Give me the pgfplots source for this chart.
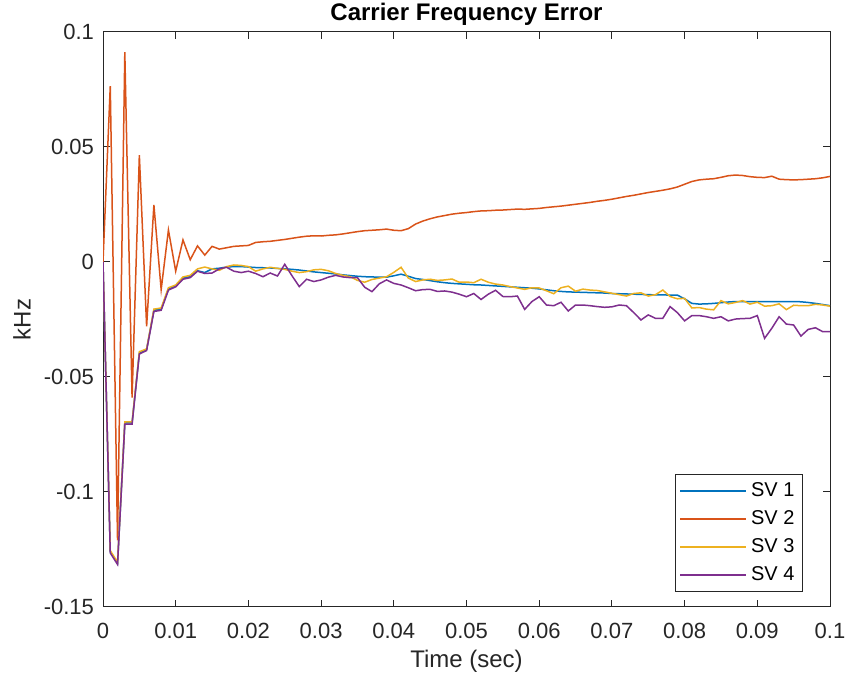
\documentclass[border=0pt]{standalone}
\usepackage{pgfplots}
\usepackage{pgfplotstable}
\pgfplotsset{compat=1.18}
\usepackage{fontspec}
\setmainfont{Liberation Sans}
\definecolor{c1}{rgb}{0,0.447,0.741}
\definecolor{c2}{rgb}{0.85,0.325,0.098}
\definecolor{c3}{rgb}{0.929,0.694,0.125}
\definecolor{c4}{rgb}{0.494,0.184,0.556}
\definecolor{axgray}{rgb}{0.15,0.15,0.15}
\pgfplotstableread{
x sva svb svc svd
0.000 0 0 0 0
0.001 -0.126 0.0765 -0.1255 -0.1265
0.002 -0.131 -0.121 -0.1305 -0.1315
0.003 -0.070 0.0912 -0.0695 -0.0705
0.004 -0.070 -0.059 -0.0695 -0.0705
0.005 -0.0396 0.0465 -0.0390 -0.0400
0.006 -0.038 -0.028 -0.0378 -0.0385
0.007 -0.021 0.0248 -0.0205 -0.0215
0.008 -0.0205 -0.012 -0.0200 -0.0210
0.009 -0.0118 0.0139 -0.0112 -0.0122
0.010 -0.0104 -0.004 -0.0100 -0.0108
0.011 -0.007 0.0096 -0.0065 -0.0075
0.012 -0.0064 0.001 -0.0058 -0.0068
0.013 -0.0038 0.007 -0.0030 -0.0040
0.014 -0.0046 0.003 -0.0022 -0.0050
0.015 -0.0030 0.0068 -0.0030 -0.0048
0.016 -0.0027 0.0056 -0.0036 -0.0030
0.017 -0.0022 0.0062 -0.0020 -0.0023
0.018 -0.0020 0.0068 -0.0013 -0.0040
0.019 -0.0020 0.0070 -0.0015 -0.0046
0.020 -0.0022 0.0072 -0.0020 -0.0040
0.021 -0.0024 0.0085 -0.0040 -0.0050
0.022 -0.0025 0.0088 -0.0030 -0.0064
0.023 -0.0026 0.0090 -0.0023 -0.0048
0.024 -0.0028 0.0094 -0.0028 -0.0061
0.025 -0.0030 0.0098 -0.0032 -0.0010
0.026 -0.0032 0.0103 -0.0040 -0.0060
0.027 -0.0035 0.0108 -0.0046 -0.0107
0.028 -0.0039 0.0112 -0.0042 -0.0075
0.029 -0.0043 0.0114 -0.0034 -0.0085
0.030 -0.0046 0.0113 -0.0032 -0.0078
0.031 -0.0049 0.0116 -0.0038 -0.0066
0.032 -0.0052 0.0118 -0.0050 -0.0058
0.033 -0.0056 0.0122 -0.0058 -0.0065
0.034 -0.0059 0.0127 -0.0064 -0.0068
0.035 -0.0062 0.0132 -0.0080 -0.0068
0.036 -0.0064 0.0136 -0.0088 -0.0110
0.037 -0.0065 0.0138 -0.0076 -0.0129
0.038 -0.0066 0.0140 -0.0070 -0.0095
0.039 -0.0066 0.0143 -0.0064 -0.0078
0.040 -0.0060 0.0138 -0.0045 -0.0093
0.041 -0.0053 0.0136 -0.0023 -0.0100
0.042 -0.0062 0.0145 -0.0070 -0.0112
0.043 -0.0072 0.0165 -0.0085 -0.0125
0.044 -0.0076 0.0178 -0.0078 -0.0120
0.045 -0.0081 0.0188 -0.0075 -0.0119
0.046 -0.0086 0.0196 -0.0080 -0.0128
0.047 -0.0090 0.0202 -0.0078 -0.0126
0.048 -0.0093 0.0208 -0.0074 -0.0131
0.049 -0.0095 0.0212 -0.0088 -0.0140
0.050 -0.0097 0.0215 -0.0087 -0.0151
0.051 -0.0099 0.0219 -0.0090 -0.0137
0.052 -0.0100 0.0222 -0.0075 -0.0163
0.053 -0.0102 0.0223 -0.0088 -0.0140
0.054 -0.0104 0.0225 -0.0096 -0.0123
0.055 -0.0106 0.0226 -0.0100 -0.0150
0.056 -0.0108 0.0228 -0.0107 -0.0151
0.057 -0.0110 0.0230 -0.0113 -0.0148
0.058 -0.0112 0.0229 -0.0119 -0.0206
0.059 -0.0114 0.0231 -0.0112 -0.0172
0.060 -0.0117 0.0233 -0.0113 -0.0151
0.061 -0.0121 0.0237 -0.0125 -0.0187
0.062 -0.0125 0.0240 -0.0138 -0.0190
0.063 -0.0128 0.0243 -0.0112 -0.0175
0.064 -0.0130 0.0247 -0.0105 -0.0213
0.065 -0.0131 0.0251 -0.0127 -0.0187
0.066 -0.0132 0.0255 -0.0118 -0.0187
0.067 -0.0133 0.0259 -0.0122 -0.0190
0.068 -0.0134 0.0264 -0.0124 -0.0194
0.069 -0.0135 0.0268 -0.0130 -0.0197
0.070 -0.0137 0.0273 -0.0136 -0.0195
0.071 -0.0138 0.0279 -0.0142 -0.0187
0.072 -0.0139 0.0285 -0.0148 -0.0190
0.073 -0.0140 0.0290 -0.0137 -0.0220
0.074 -0.0141 0.0296 -0.0134 -0.0252
0.075 -0.0142 0.0302 -0.0148 -0.0230
0.076 -0.0143 0.0307 -0.0142 -0.0245
0.077 -0.0143 0.0312 -0.0122 -0.0245
0.078 -0.0144 0.0318 -0.0150 -0.0194
0.079 -0.0144 0.0326 -0.0160 -0.0220
0.080 -0.0160 0.0338 -0.0158 -0.0256
0.081 -0.0180 0.0350 -0.0200 -0.0233
0.082 -0.0183 0.0357 -0.0198 -0.0233
0.083 -0.0182 0.0360 -0.0205 -0.0238
0.084 -0.0180 0.0362 -0.0208 -0.0245
0.085 -0.0177 0.0368 -0.0168 -0.0238
0.086 -0.0174 0.0375 -0.0182 -0.0256
0.087 -0.0172 0.0378 -0.0176 -0.0248
0.088 -0.0172 0.0376 -0.0168 -0.0246
0.089 -0.0172 0.0371 -0.0183 -0.0245
0.090 -0.0172 0.0368 -0.0175 -0.0233
0.091 -0.0172 0.0367 -0.0192 -0.0332
0.092 -0.0172 0.0373 -0.0190 -0.0288
0.093 -0.0172 0.0360 -0.0182 -0.0238
0.094 -0.0172 0.0358 -0.0207 -0.0270
0.095 -0.0172 0.0357 -0.0188 -0.0274
0.096 -0.0173 0.0358 -0.0190 -0.0322
0.097 -0.0176 0.0360 -0.0190 -0.0293
0.098 -0.0180 0.0362 -0.0184 -0.0286
0.099 -0.0185 0.0366 -0.0187 -0.0303
0.100 -0.0190 0.0372 -0.0192 -0.0303
}\data
\begin{document}
\begin{tikzpicture}
\useasboundingbox (0,0) rectangle (423pt,339.5pt);
\begin{axis}[
  at={(51.5pt,36pt)}, anchor=south west,
  scale only axis, width=363.5pt, height=287.5pt,
  xmin=0, xmax=0.1, ymin=-0.15, ymax=0.1,
  xtick={0,0.01,...,0.1},
  xticklabels={0,0.01,0.02,0.03,0.04,0.05,0.06,0.07,0.08,0.09,0.1},
  ytick={-0.15,-0.1,-0.05,0,0.05,0.1},
  yticklabels={-0.15,-0.1,-0.05,0,0.05,0.1},
  scaled ticks=false,
  tick align=inside, tickpos=both,
  major tick length=3.5pt,
  axis line style={axgray, line width=0.5pt},
  every tick/.style={axgray, line width=0.5pt},
  tick label style={font=\fontsize{11}{13}\selectfont, text=axgray},
  xticklabel style={yshift=-4.5pt},
  yticklabel style={xshift=-1pt},
  title={Carrier Frequency Error},
  title style={font=\fontsize{12}{14}\selectfont\bfseries,
    at={(axis description cs:0.5,1)}, anchor=base, yshift=-0.5pt},
  xlabel={Time (sec)}, ylabel={kHz},
  label style={font=\fontsize{12}{14}\selectfont, text=axgray},
  xlabel style={at={(axis description cs:0.5,0)}, anchor=base, yshift=-30.5pt},
  ylabel style={at={(axis description cs:0,0.5)}, anchor=center, yshift=40.5pt},
  legend style={at={(1,0)}, anchor=south east, xshift=-13.5pt, yshift=7.5pt,
    draw=axgray, line width=0.5pt, font=\fontsize{10}{12}\selectfont,
    row sep=1.5pt, inner sep=2pt},
  legend cell align=left,
  legend image code/.code={\draw[#1] (0pt,0pt) -- (33pt,0pt);},
  every axis plot/.append style={line width=0.75pt},
]
\addplot[c1] table[x=x,y=sva]{\data};
\addplot[c2] table[x=x,y=svb]{\data};
\addplot[c3] table[x=x,y=svc]{\data};
\addplot[c4] table[x=x,y=svd]{\data};
\legend{SV 1,SV 2,SV 3,SV 4}
\end{axis}
\end{tikzpicture}
\end{document}
